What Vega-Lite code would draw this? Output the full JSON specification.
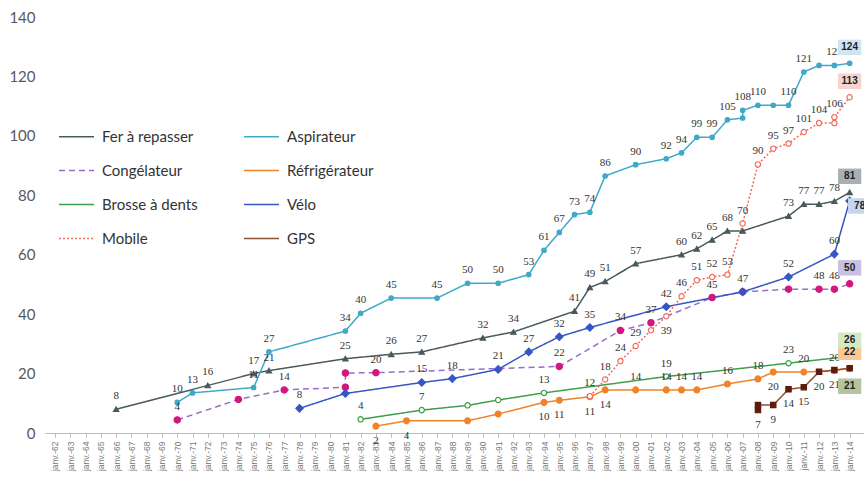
{
  "$schema": "https://vega.github.io/schema/vega-lite/v6.json",
  "width": 819,
  "height": 416,
  "autosize": {"type": "none"},
  "padding": {"left": 45, "top": 17, "right": 0, "bottom": 46},
  "background": "white",
  "config": {"view": {"stroke": null}, "font": "Lato"},
  "data": {"values": [
    {"s":"Fer à repasser","d":"1966-01-01","v":8,"t":"8"},
    {"s":"Fer à repasser","d":"1972-01-01","v":16,"t":"16"},
    {"s":"Fer à repasser","d":"1975-01-01","v":20,"t":"17"},
    {"s":"Fer à repasser","d":"1976-01-01","v":21,"t":"21"},
    {"s":"Fer à repasser","d":"1981-01-01","v":25,"t":"25"},
    {"s":"Fer à repasser","d":"1984-01-01","v":26.5,"t":"26"},
    {"s":"Fer à repasser","d":"1986-01-01","v":27.3,"t":"27"},
    {"s":"Fer à repasser","d":"1990-01-01","v":32,"t":"32"},
    {"s":"Fer à repasser","d":"1992-01-01","v":34,"t":"34"},
    {"s":"Fer à repasser","d":"1996-01-01","v":41,"t":"41"},
    {"s":"Fer à repasser","d":"1997-01-01","v":49,"t":"49"},
    {"s":"Fer à repasser","d":"1998-01-01","v":51,"t":"51"},
    {"s":"Fer à repasser","d":"2000-01-01","v":57,"t":"57"},
    {"s":"Fer à repasser","d":"2003-01-01","v":60,"t":"60"},
    {"s":"Fer à repasser","d":"2004-01-01","v":62,"t":"62"},
    {"s":"Fer à repasser","d":"2005-01-01","v":65,"t":"65"},
    {"s":"Fer à repasser","d":"2006-01-01","v":68,"t":"68"},
    {"s":"Fer à repasser","d":"2007-01-01","v":68},
    {"s":"Fer à repasser","d":"2010-01-01","v":73,"t":"73"},
    {"s":"Fer à repasser","d":"2011-01-01","v":77,"t":"77"},
    {"s":"Fer à repasser","d":"2012-01-01","v":77,"t":"77"},
    {"s":"Fer à repasser","d":"2013-01-01","v":78,"t":"78"},
    {"s":"Fer à repasser","d":"2014-01-01","v":81,"e":"81"},

    {"s":"Aspirateur","d":"1970-01-01","v":10.3,"t":"10"},
    {"s":"Aspirateur","d":"1971-01-01","v":13.5,"t":"13"},
    {"s":"Aspirateur","d":"1975-01-01","v":15.3,"t":"11"},
    {"s":"Aspirateur","d":"1976-01-01","v":27.3,"t":"27"},
    {"s":"Aspirateur","d":"1981-01-01","v":34.3,"t":"34"},
    {"s":"Aspirateur","d":"1982-01-01","v":40.3,"t":"40"},
    {"s":"Aspirateur","d":"1984-01-01","v":45.4,"t":"45"},
    {"s":"Aspirateur","d":"1987-01-01","v":45.4,"t":"45"},
    {"s":"Aspirateur","d":"1989-01-01","v":50.4,"t":"50"},
    {"s":"Aspirateur","d":"1991-01-01","v":50.4,"t":"50"},
    {"s":"Aspirateur","d":"1993-01-01","v":53.3,"t":"53"},
    {"s":"Aspirateur","d":"1994-01-01","v":61.5,"t":"61"},
    {"s":"Aspirateur","d":"1995-01-01","v":67.5,"t":"67"},
    {"s":"Aspirateur","d":"1996-01-01","v":73.5,"t":"73"},
    {"s":"Aspirateur","d":"1997-01-01","v":74.3,"t":"74"},
    {"s":"Aspirateur","d":"1998-01-01","v":86.5,"t":"86"},
    {"s":"Aspirateur","d":"2000-01-01","v":90.3,"t":"90"},
    {"s":"Aspirateur","d":"2002-01-01","v":92.3,"t":"92"},
    {"s":"Aspirateur","d":"2003-01-01","v":94.3,"t":"94"},
    {"s":"Aspirateur","d":"2004-01-01","v":99.5,"t":"99"},
    {"s":"Aspirateur","d":"2005-01-01","v":99.5,"t":"99"},
    {"s":"Aspirateur","d":"2006-01-01","v":105.4,"t":"105"},
    {"s":"Aspirateur","d":"2007-01-01","v":106},
    {"s":"Aspirateur","d":"2007-01-02","v":108.6,"t":"108"},
    {"s":"Aspirateur","d":"2008-01-01","v":110.3,"t":"110"},
    {"s":"Aspirateur","d":"2009-01-01","v":110.3},
    {"s":"Aspirateur","d":"2010-01-01","v":110.3,"t":"110"},
    {"s":"Aspirateur","d":"2011-01-01","v":121.5,"t":"121"},
    {"s":"Aspirateur","d":"2012-01-01","v":123.7},
    {"s":"Aspirateur","d":"2013-01-01","v":123.7,"t":"123"},
    {"s":"Aspirateur","d":"2014-01-01","v":124.4,"e":"124"},

    {"s":"Congélateur","d":"1970-01-01","v":4.4,"t":"4"},
    {"s":"Congélateur","d":"1974-01-01","v":11.3},
    {"s":"Congélateur","d":"1977-01-01","v":14.5,"t":"14"},
    {"s":"Congélateur","d":"1981-01-01","v":15.4},
    {"s":"Congélateur","d":"1981-01-02","v":20.2},
    {"s":"Congélateur","d":"1983-01-01","v":20.3,"t":"20"},
    {"s":"Congélateur","d":"1995-01-01","v":22.4,"t":"22"},
    {"s":"Congélateur","d":"1999-01-01","v":34.5,"t":"34"},
    {"s":"Congélateur","d":"2001-01-01","v":37.1,"t":"37"},
    {"s":"Congélateur","d":"2005-01-01","v":45.6,"t":"45"},
    {"s":"Congélateur","d":"2007-01-01","v":47.5},
    {"s":"Congélateur","d":"2010-01-01","v":48.4},
    {"s":"Congélateur","d":"2012-01-01","v":48.4,"t":"48"},
    {"s":"Congélateur","d":"2013-01-01","v":48.4,"t":"48"},
    {"s":"Congélateur","d":"2014-01-01","v":50.2,"e":"50"},

    {"s":"Réfrigérateur","d":"1983-01-01","v":2.3,"t":"2"},
    {"s":"Réfrigérateur","d":"1985-01-01","v":4.1,"t":"4"},
    {"s":"Réfrigérateur","d":"1989-01-01","v":4.1},
    {"s":"Réfrigérateur","d":"1991-01-01","v":6.4},
    {"s":"Réfrigérateur","d":"1994-01-01","v":10.3,"t":"10"},
    {"s":"Réfrigérateur","d":"1995-01-01","v":11.0,"t":"11"},
    {"s":"Réfrigérateur","d":"1997-01-01","v":12.2,"t":"11"},
    {"s":"Réfrigérateur","d":"1998-01-01","v":14.5,"t":"14"},
    {"s":"Réfrigérateur","d":"2000-01-01","v":14.5,"t":"14"},
    {"s":"Réfrigérateur","d":"2002-01-01","v":14.5,"t":"14"},
    {"s":"Réfrigérateur","d":"2003-01-01","v":14.5,"t":"14"},
    {"s":"Réfrigérateur","d":"2004-01-01","v":14.5,"t":"14"},
    {"s":"Réfrigérateur","d":"2006-01-01","v":16.5,"t":"16"},
    {"s":"Réfrigérateur","d":"2008-01-01","v":18.2,"t":"18"},
    {"s":"Réfrigérateur","d":"2009-01-01","v":20.5,"t":"20"},
    {"s":"Réfrigérateur","d":"2011-01-01","v":20.5,"t":"20"},
    {"s":"Réfrigérateur","d":"2013-01-01","v":21.0,"t":"20"},
    {"s":"Réfrigérateur","d":"2014-01-01","v":21.8,"e":"22"},

    {"s":"Brosse à dents","d":"1982-01-01","v":4.6,"t":"4"},
    {"s":"Brosse à dents","d":"1986-01-01","v":7.7,"t":"7"},
    {"s":"Brosse à dents","d":"1989-01-01","v":9.3},
    {"s":"Brosse à dents","d":"1991-01-01","v":11.1},
    {"s":"Brosse à dents","d":"1994-01-01","v":13.5,"t":"13"},
    {"s":"Brosse à dents","d":"2002-01-01","v":19.0,"t":"19"},
    {"s":"Brosse à dents","d":"2010-01-01","v":23.5,"t":"23"},
    {"s":"Brosse à dents","d":"2014-01-01","v":25.8,"e":"26"},

    {"s":"Vélo","d":"1978-01-01","v":8.3,"t":"8"},
    {"s":"Vélo","d":"1981-01-01","v":13.3},
    {"s":"Vélo","d":"1986-01-01","v":17.0,"t":"15"},
    {"s":"Vélo","d":"1988-01-01","v":18.3,"t":"18"},
    {"s":"Vélo","d":"1991-01-01","v":21.4,"t":"21"},
    {"s":"Vélo","d":"1993-01-01","v":27.3,"t":"27"},
    {"s":"Vélo","d":"1995-01-01","v":32.4,"t":"32"},
    {"s":"Vélo","d":"1997-01-01","v":35.5,"t":"35"},
    {"s":"Vélo","d":"2002-01-01","v":42.5,"t":"42"},
    {"s":"Vélo","d":"2007-01-01","v":47.5,"t":"47"},
    {"s":"Vélo","d":"2010-01-01","v":52.5,"t":"52"},
    {"s":"Vélo","d":"2013-01-01","v":60.2,"t":"60"},
    {"s":"Vélo","d":"2014-01-01","v":78.1,"e":"78"},

    {"s":"Mobile","d":"1997-01-01","v":12.4,"t":"12"},
    {"s":"Mobile","d":"1998-01-01","v":18,"t":"18"},
    {"s":"Mobile","d":"1999-01-01","v":24.2,"t":"24"},
    {"s":"Mobile","d":"2000-01-01","v":29.3,"t":"29"},
    {"s":"Mobile","d":"2001-01-01","v":34.6},
    {"s":"Mobile","d":"2002-01-01","v":39.3,"t":"39"},
    {"s":"Mobile","d":"2003-01-01","v":46,"t":"46"},
    {"s":"Mobile","d":"2004-01-01","v":51.4,"t":"51"},
    {"s":"Mobile","d":"2005-01-01","v":52.5,"t":"52"},
    {"s":"Mobile","d":"2006-01-01","v":53.3,"t":"53"},
    {"s":"Mobile","d":"2007-01-01","v":70.5,"t":"70"},
    {"s":"Mobile","d":"2008-01-01","v":90.4,"t":"90"},
    {"s":"Mobile","d":"2009-01-01","v":95.7,"t":"95"},
    {"s":"Mobile","d":"2010-01-01","v":97.4,"t":"97"},
    {"s":"Mobile","d":"2011-01-01","v":101.3,"t":"101"},
    {"s":"Mobile","d":"2012-01-01","v":104.3,"t":"104"},
    {"s":"Mobile","d":"2013-01-01","v":104.3},
    {"s":"Mobile","d":"2013-01-02","v":106.3,"t":"106"},
    {"s":"Mobile","d":"2014-01-01","v":113,"e":"113"},

    {"s":"GPS","d":"2008-01-01","v":7.7,"t":"7"},
    {"s":"GPS","d":"2008-01-02","v":9.4},
    {"s":"GPS","d":"2009-01-01","v":9.4,"t":"9"},
    {"s":"GPS","d":"2010-01-01","v":14.7,"t":"14"},
    {"s":"GPS","d":"2011-01-01","v":15.4,"t":"15"},
    {"s":"GPS","d":"2012-01-01","v":20.6,"t":"20"},
    {"s":"GPS","d":"2013-01-01","v":21.2,"t":"21"},
    {"s":"GPS","d":"2014-01-01","v":21.8,"e":"21"}
  ]},
  "encoding": {
    "x": {
      "field": "d", "type": "temporal",
      "scale": {"type": "utc", "domain": [{"year": 1961, "month": 5, "date": 7, "utc": true}, {"year": 2014, "month": 12, "date": 10, "utc": true}]},
      "axis": {
        "title": null, "grid": false,
        "tickCount": {"interval": "year", "step": 1},
        "labelExpr": "'janv.-' + utcFormat(datum.value, '%y')",
        "labelAngle": -90, "labelAlign": "right", "labelBaseline": "middle",
        "labelFont": "Liberation Sans", "labelFontSize": 8.5, "labelColor": "#777777",
        "domainColor": "#bbbbbb", "tickColor": "#bbbbbb", "tickSize": 4, "labelPadding": 4,
        "labelOverlap": false, "labelFlush": false, "labelBound": false
      }
    },
    "y": {
      "field": "v", "type": "quantitative",
      "scale": {"domain": [0, 140]},
      "axis": {
        "title": null, "grid": false, "domain": false, "ticks": false,
        "values": [0, 20, 40, 60, 80, 100, 120, 140],
        "labelPadding": 10, "labelFont": "Lato", "labelFontSize": 15, "labelColor": "#595959"
      }
    }
  },
  "layer": [
    {
      "mark": {"type": "line", "strokeWidth": 1.5},
      "encoding": {
        "color": {
          "field": "s", "type": "nominal",
          "scale": {
            "domain": ["Fer à repasser", "Aspirateur", "Congélateur", "Réfrigérateur", "Brosse à dents", "Vélo", "Mobile", "GPS"],
            "range": ["#4a5a5c", "#3fa9c8", "#9a6cc8", "#f08228", "#3f9e4a", "#3556c4", "#f26b5b", "#8a5038"]
          },
          "legend": {
            "orient": "none", "legendX": 13, "legendY": 101, "columns": 2, "direction": "horizontal", "title": null,
            "symbolType": "stroke", "symbolSize": 1225, "symbolStrokeWidth": 1.6,
            "labelFont": "Lato", "labelFontSize": 15, "labelColor": "#333333",
            "rowPadding": 7, "columnPadding": 42, "labelOffset": 7, "labelLimit": 300
          }
        },
        "strokeDash": {
          "field": "s", "type": "nominal",
          "scale": {
            "domain": ["Fer à repasser", "Aspirateur", "Congélateur", "Réfrigérateur", "Brosse à dents", "Vélo", "Mobile", "GPS"],
            "range": [[1, 0], [1, 0], [6, 4], [1, 0], [1, 0], [1, 0], [2, 2], [1, 0]]
          },
          "legend": {
            "orient": "none", "legendX": 13, "legendY": 101, "columns": 2, "direction": "horizontal", "title": null,
            "symbolType": "stroke", "symbolSize": 1225, "symbolStrokeWidth": 1.6,
            "labelFont": "Lato", "labelFontSize": 15, "labelColor": "#333333",
            "rowPadding": 7, "columnPadding": 42, "labelOffset": 7, "labelLimit": 300
          }
        }
      }
    },
    {
      "mark": {"type": "point", "strokeWidth": 1.2, "opacity": 1},
      "encoding": {
        "shape": {
          "condition": [
            {"test": "datum.s == 'Fer à repasser'", "value": "triangle-up"},
            {"test": "datum.s == 'Vélo'", "value": "diamond"},
            {"test": "datum.s == 'GPS'", "value": "square"}
          ],
          "value": "circle"
        },
        "fill": {
          "condition": [
            {"test": "datum.s == 'Fer à repasser'", "value": "#4a5a5c"},
            {"test": "datum.s == 'Aspirateur'", "value": "#3fa9c8"},
            {"test": "datum.s == 'Congélateur'", "value": "#d4177e"},
            {"test": "datum.s == 'Réfrigérateur'", "value": "#f08228"},
            {"test": "datum.s == 'Vélo'", "value": "#3556c4"},
            {"test": "datum.s == 'GPS'", "value": "#5e1a0a"}
          ],
          "value": "#ffffff"
        },
        "stroke": {
          "condition": [
            {"test": "datum.s == 'Fer à repasser'", "value": "#4a5a5c"},
            {"test": "datum.s == 'Aspirateur'", "value": "#3fa9c8"},
            {"test": "datum.s == 'Congélateur'", "value": "#d4177e"},
            {"test": "datum.s == 'Réfrigérateur'", "value": "#f08228"},
            {"test": "datum.s == 'Brosse à dents'", "value": "#3f9e4a"},
            {"test": "datum.s == 'Vélo'", "value": "#3556c4"},
            {"test": "datum.s == 'Mobile'", "value": "#f26b5b"}
          ],
          "value": "#5e1a0a"
        },
        "size": {
          "condition": [
            {"test": "datum.s == 'Aspirateur'", "value": 20},
            {"test": "datum.s == 'Congélateur'", "value": 40},
            {"test": "datum.s == 'Réfrigérateur'", "value": 35},
            {"test": "datum.s == 'Vélo'", "value": 55}
          ],
          "value": 28
        }
      }
    },
    {
      "transform": [{"filter": "datum.t && !(datum.s == 'GPS' || (datum.s == 'Réfrigérateur' && (year(datum.d) < 2000 || year(datum.d) == 2009)) || (datum.s == 'Mobile' && datum.t == '39'))"}],
      "mark": {"type": "text", "font": "Liberation Serif", "fontSize": 11, "color": "#333333", "baseline": "middle", "yOffset": -13},
      "encoding": {"text": {"field": "t"}}
    },
    {
      "transform": [{"filter": "datum.t && (datum.s == 'GPS' || (datum.s == 'Réfrigérateur' && (year(datum.d) < 2000 || year(datum.d) == 2009)) || (datum.s == 'Mobile' && datum.t == '39'))"}],
      "mark": {"type": "text", "font": "Liberation Serif", "fontSize": 11, "color": "#333333", "baseline": "middle", "yOffset": 15},
      "encoding": {"text": {"field": "t"}}
    },
    {
      "transform": [{"filter": "datum.e"}],
      "mark": {"type": "point", "shape": "M-1.5,-1L1.5,-1L1.5,1L-1.5,1Z", "filled": true, "size": 240, "opacity": 1, "yOffset": -16},
      "encoding": {
        "fill": {
          "condition": [
            {"test": "datum.s == 'Fer à repasser'", "value": "#a9b0b3"},
            {"test": "datum.s == 'Aspirateur'", "value": "#cfe6f2"},
            {"test": "datum.s == 'Congélateur'", "value": "#c9c0e3"},
            {"test": "datum.s == 'Réfrigérateur'", "value": "#f9c993"},
            {"test": "datum.s == 'Brosse à dents'", "value": "#d3e9c4"},
            {"test": "datum.s == 'Mobile'", "value": "#f6d3cf"}
          ],
          "value": "transparent"
        }
      }
    },
    {
      "transform": [{"filter": "datum.e && datum.s == 'GPS'"}],
      "mark": {"type": "point", "shape": "M-1.5,-1L1.5,-1L1.5,1L-1.5,1Z", "filled": true, "size": 240, "opacity": 1, "yOffset": 18, "color": "#b4c49c"}
    },
    {
      "transform": [{"filter": "datum.e && datum.s == 'Vélo'"}],
      "mark": {"type": "point", "shape": "M-1.5,-1L1.5,-1L1.5,1L-1.5,1Z", "filled": true, "size": 240, "opacity": 1, "xOffset": 10, "yOffset": 5, "color": "#c6d6ef"}
    },
    {
      "transform": [{"filter": "datum.e && datum.s != 'GPS' && datum.s != 'Vélo'"}],
      "mark": {"type": "text", "font": "Liberation Sans", "fontSize": 10, "fontWeight": "bold", "color": "#222222", "baseline": "middle", "yOffset": -16},
      "encoding": {"text": {"field": "e"}}
    },
    {
      "transform": [{"filter": "datum.e && datum.s == 'GPS'"}],
      "mark": {"type": "text", "font": "Liberation Sans", "fontSize": 10, "fontWeight": "bold", "color": "#222222", "baseline": "middle", "yOffset": 18},
      "encoding": {"text": {"field": "e"}}
    },
    {
      "transform": [{"filter": "datum.e && datum.s == 'Vélo'"}],
      "mark": {"type": "text", "font": "Liberation Sans", "fontSize": 10, "fontWeight": "bold", "color": "#222222", "baseline": "middle", "xOffset": 10, "yOffset": 5},
      "encoding": {"text": {"field": "e"}}
    }
  ]
}
